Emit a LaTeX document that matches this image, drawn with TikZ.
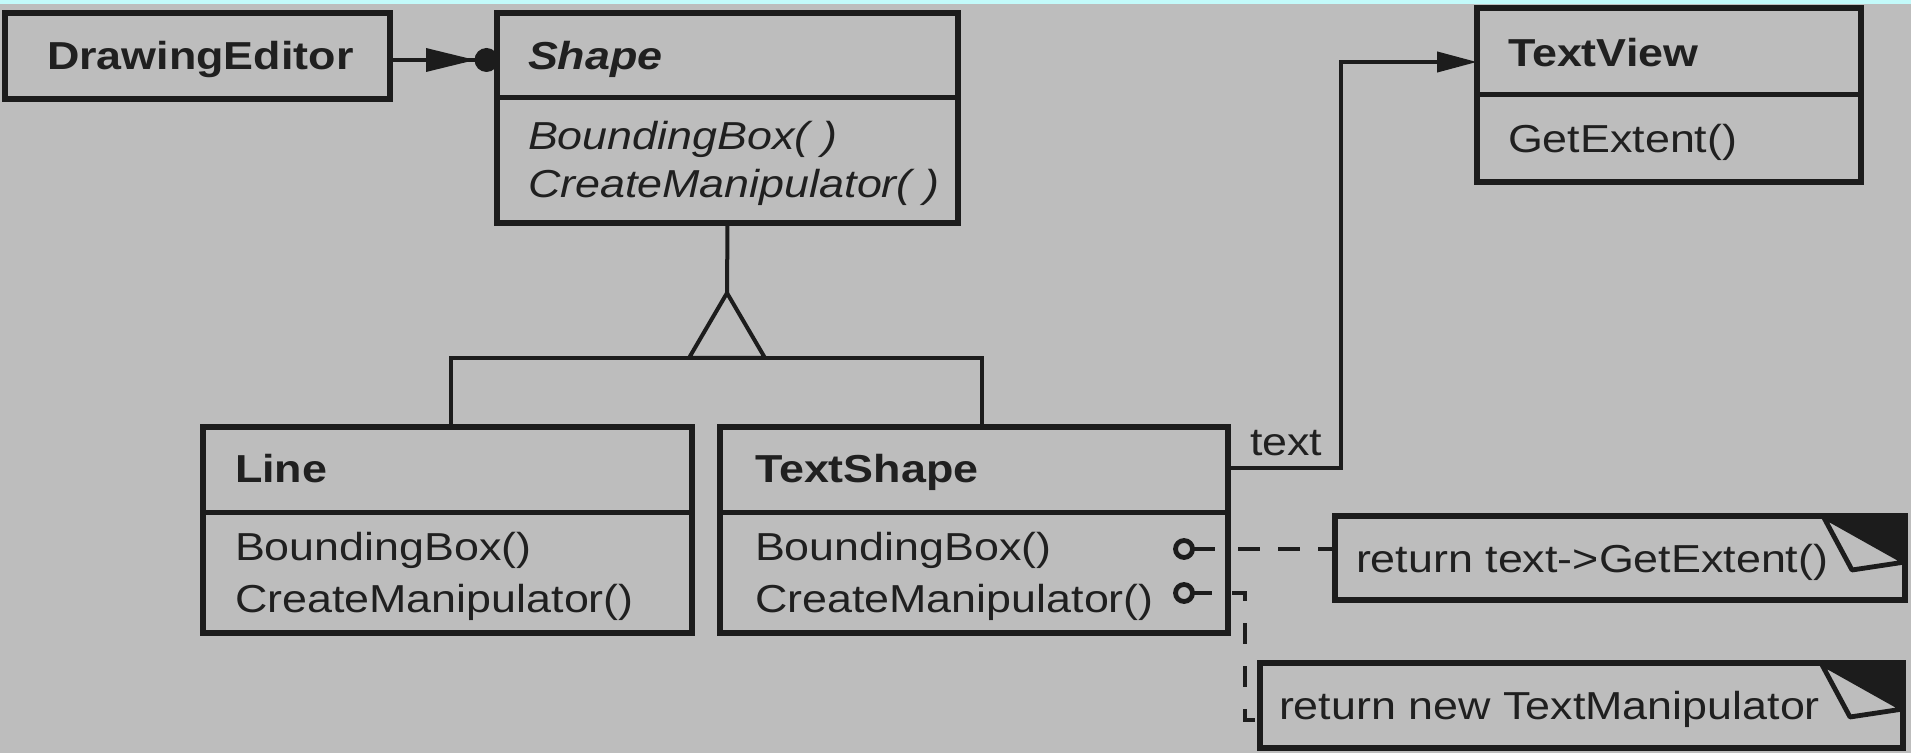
\documentclass[tikz,border=0pt]{standalone}
\usepackage{fontspec}
\setmainfont{Liberation Sans}[FakeStretch=1.15]
\usetikzlibrary{arrows.meta,calc}
\definecolor{bg}{RGB}{189,189,189}
\definecolor{ink}{RGB}{28,28,28}
\definecolor{txt}{RGB}{32,32,32}
\definecolor{cyanstrip}{RGB}{195,250,250}
\tikzset{
  classbox/.style={draw=ink, line width=2.8pt, rectangle, inner sep=0pt, outer sep=0pt},
  divider/.style={draw=ink, line width=2.5pt},
  lbl/.style={anchor=base west, inner sep=0pt, outer sep=0pt, text=txt, font=\fontsize{19.5pt}{23pt}\selectfont},
  lblb/.style={lbl, font=\fontsize{19.5pt}{23pt}\selectfont\bfseries},
  lbli/.style={lbl, font=\fontsize{19.5pt}{23pt}\selectfont\itshape},
  lblbi/.style={lbl, font=\fontsize{19.5pt}{23pt}\selectfont\bfseries\itshape},
  conn/.style={draw=ink, line width=2pt},
  dashconn/.style={conn, dash pattern=on 11pt off 9pt},
  ring/.style={draw=ink, line width=2.4pt, circle, minimum size=8.5pt, inner sep=0pt, outer sep=0pt},
  flap/.style={fill=bg, draw=ink, line width=2.4pt, line join=round}
}
\begin{document}
\begin{tikzpicture}[x=0.5pt, y=-0.5pt]
\fill[bg] (0,0) rectangle (1911,753);
\fill[cyanstrip] (0,0) rectangle (1911,4);
\useasboundingbox (0,0) rectangle (1911,753);

% class boxes
\node[classbox, minimum width=192.5pt, minimum height=43pt] (de) at (197.5,56) {};
\node[classbox, minimum width=230.5pt, minimum height=105pt] (sh) at (727.5,118) {};
\node[classbox, minimum width=192pt, minimum height=87pt] (tv) at (1669,95) {};
\node[classbox, minimum width=244.5pt, minimum height=103pt] (ln) at (447.5,530) {};
\node[classbox, minimum width=254pt, minimum height=103pt] (ts) at (974,530) {};

% dividers
\draw[divider] (sh.west |- 0,98) -- (sh.east |- 0,98);
\draw[divider] (tv.west |- 0,95) -- (tv.east |- 0,95);
\draw[divider] (ln.west |- 0,512) -- (ln.east |- 0,512);
\draw[divider] (ts.west |- 0,512) -- (ts.east |- 0,512);

% notes
\node[classbox, minimum width=285pt, minimum height=42pt] (n1) at (1620,558) {};
\node[classbox, minimum width=321.5pt, minimum height=42.5pt] (n2) at (1581.5,705.5) {};
\fill[ink] ([xshift=-41pt]n1.north east) -- (n1.north east) -- ([yshift=-23pt]n1.north east) -- cycle;
\path[flap] ([xshift=-41pt]n1.north east) -- ([yshift=-23pt]n1.north east) -- ([xshift=-26.5pt,yshift=-27pt]n1.north east) -- cycle;
\fill[ink] ([xshift=-41pt]n2.north east) -- (n2.north east) -- ([yshift=-23pt]n2.north east) -- cycle;
\path[flap] ([xshift=-41pt]n2.north east) -- ([yshift=-23pt]n2.north east) -- ([xshift=-26.5pt,yshift=-27pt]n2.north east) -- cycle;

% texts
\node[lblb] (tde) at (47,70) {DrawingEditor};
\node[lblbi] (tsh) at (528,70) {Shape};
\node[lbli] (m1) at (528,150) {BoundingBox( )};
\node[lbli] (m2) at (528,198) {CreateManipulator( )};
\node[lblb] (ttv) at (1508,67) {TextView};
\node[lbl] (m3) at (1508,153) {GetExtent()};
\node[lblb] (tln) at (235,482) {Line};
\node[lbl] (m4) at (235,560) {BoundingBox()};
\node[lbl] (m5) at (235,612) {CreateManipulator()};
\node[lblb] (tts) at (755,482) {TextShape};
\node[lbl] (m6) at (755,560) {BoundingBox()};
\node[lbl] (m7) at (755,612) {CreateManipulator()};
\node[lbl] (ttext) at (1250,455) {text};
\node[lbl] (tn1) at (1356,572) {return text->GetExtent()};
\node[lbl] (tn2) at (1279,719) {return new TextManipulator};

% DrawingEditor -> Shape (arrow with many-dot)
\draw[conn] (de.east |- 0,60) -- (sh.west |- 0,60);
\fill[ink] (426,48) -- (475,60) -- (426,72) -- cycle;
\fill[ink] (486.5,60) circle[radius=6pt];

% generalization
\coordinate (apex) at (727,293);
\draw[conn] (sh.south) -- (apex);
\draw[conn] (apex) -- (689,358) -- (765,358) -- cycle;
\coordinate (bl) at (451,358);
\coordinate (br) at (982,358);
\draw[conn] (bl |- ln.north) -- (bl) -- (br) -- (br |- ts.north);

% text association
\coordinate (j1) at (1341,468);
\coordinate (j2) at (1341,62);
\draw[conn, -{Triangle[length=20pt,width=10pt]}] (ts.east |- j1) -- (j1) -- (j2) -- (tv.west |- j2);

% note links
\node[ring] (r1) at (1184,549) {};
\node[ring] (r2) at (1184,593) {};
\coordinate (s1) at (1215,549);
\coordinate (s2) at (1212,593);
\draw[conn] (r1.east) -- (s1);
\draw[conn] (r2.east) -- (s2);
\coordinate (d1) at (1238,549);
\draw[dashconn] (d1) -- (n1.west |- d1);
\coordinate (d2) at (1232,593);
\coordinate (k2) at (1245,593);
\coordinate (k3) at (1245,720);
\draw[conn, dash pattern=on 10.5pt off 11pt] (d2) -- (k2) -- (k3) -- (n2.west |- k3);
\end{tikzpicture}
\end{document}
